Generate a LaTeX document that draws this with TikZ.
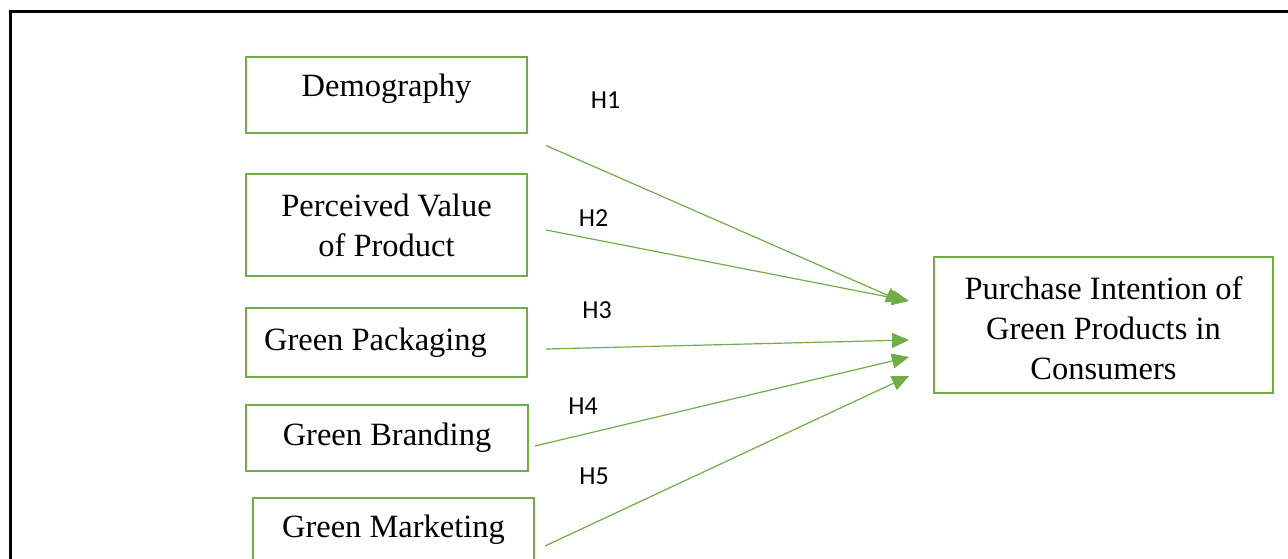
\documentclass[tikz,border=0pt]{standalone}
\usepackage{fontspec}
\setmainfont{Liberation Serif}
\newfontfamily\hfont{Carlito}
\usetikzlibrary{arrows.meta}
\definecolor{boxgreen}{HTML}{70AD47}
\tikzset{
  box/.style={draw=boxgreen, line width=2pt, inner sep=0pt, align=center,
    font=\fontsize{32.5}{40}\selectfont},
  hlab/.style={font=\hfont\fontsize{26}{30}\selectfont, inner sep=0pt},
  conn/.style={draw=boxgreen, line width=1.2pt,
    -{Triangle[length=17pt,width=15pt]}},
}
\begin{document}
\begin{tikzpicture}[x=1pt,y=-1pt]
\useasboundingbox (0,0) rectangle (1288,559);
% frame
\draw[line width=3pt] (10,600) -- (10,12) -- (1300,12);

% boxes
\node[box, minimum width=281pt, minimum height=76pt] (demo) at (386.5,95) {};
\node[font=\fontsize{32.5}{40}\selectfont, inner sep=0pt] (demotxt) at (386.5,89) {Demography};
\node[box, minimum width=281pt, minimum height=102pt] (pv) at (386.5,225) {Perceived Value\\of Product};
\node[box, minimum width=281pt, minimum height=69pt] (pack) at (386.5,342.5) {Green Packaging\hspace{22pt}};
\node[box, minimum width=282pt, minimum height=66pt] (brand) at (387,438) {Green Branding};
\node[box, minimum width=281pt, minimum height=64pt] (mkt) at (393.5,530) {Green Marketing};
\node[box, minimum width=339pt, minimum height=136pt] (pi) at (1103.5,325) {};
\node[font=\fontsize{32.5}{40}\selectfont, inner sep=0pt, align=center] (pitxt) at (1103.5,328) {Purchase Intention of\\Green Products in\\Consumers};

% labels
\node[hlab] (h1) at (605.5,100) {H1};
\node[hlab] (h2) at (593.5,218) {H2};
\node[hlab] (h3) at (597,310) {H3};
\node[hlab] (h4) at (583,406) {H4};
\node[hlab] (h5) at (594,476) {H5};

% connector ends
\coordinate (s1) at (546,145.5);
\coordinate (s2) at (546,230);
\coordinate (s3) at (546,349);
\coordinate (s4) at (535,446);
\coordinate (s5) at (545,546);
\coordinate (e1) at (903,302);
\coordinate (e2) at (909,301);
\coordinate (e3) at (909,340);
\coordinate (e4) at (909,357);
\coordinate (e5) at (909,376);

\draw[conn] (s1) -- (e1);
\draw[conn] (s2) -- (e2);
\draw[conn] (s3) -- (e3);
\draw[conn] (s4) -- (e4);
\draw[conn] (s5) -- (e5);
\end{tikzpicture}
\end{document}
